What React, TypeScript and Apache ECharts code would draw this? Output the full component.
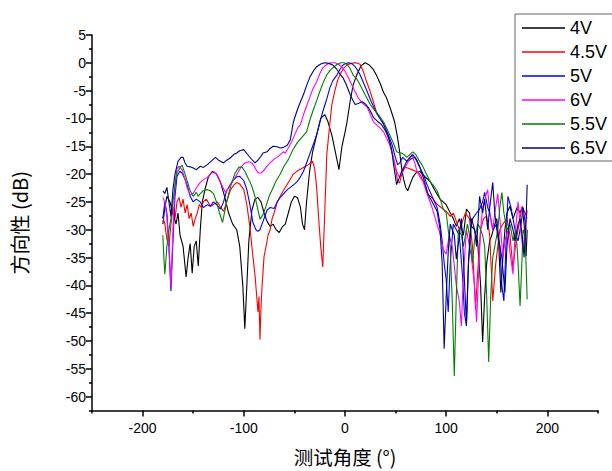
import React, { useEffect, useRef } from "react";
import * as echarts from "echarts";

const seriesNames = ["4V", "4.5V", "5V", "6V", "5.5V", "6.5V"];
const seriesColors = ["#000000", "#ff0000", "#0000ff", "#ff00ff", "#008000", "#000080"];

const xMajorTicks = [-200, -100, 0, 100, 200];
const xMinorTicks = [-250, -150, -50, 50, 150, 250];
const yMajorTicks = [-60, -55, -50, -45, -40, -35, -30, -25, -20, -15, -10, -5, 0, 5];
const yMinorTicks = [-62.5, -57.5, -52.5, -47.5, -42.5, -37.5, -32.5, -27.5, -22.5, -17.5, -12.5, -7.5, -2.5, 2.5];

const data4V = [
  [-180, -29], [-178, -26], [-176, -24], [-173, -25], [-170, -27], [-167, -29], [-165, -27], [-163, -31], [-160, -33],
  [-157, -38.5], [-155, -35], [-153, -32.5], [-151, -37.8], [-149, -33], [-147, -32], [-145, -36.5], [-143, -30],
  [-141, -25], [-138, -22.5], [-135, -20.5], [-131, -19.5], [-127, -20], [-123, -21.5], [-119, -24], [-115, -27],
  [-111, -29], [-107, -30], [-104, -33], [-101, -40], [-99, -47.8], [-97, -40], [-95, -32], [-92, -26.5], [-89, -24.5],
  [-86, -24.2], [-83, -25], [-80, -27], [-77, -28.5], [-74, -29.4], [-71, -29], [-68, -30], [-65, -30.5], [-62, -29.5],
  [-59, -29], [-56, -27], [-53, -25], [-50, -24], [-47, -24.2], [-44, -26], [-42, -29], [-40, -30], [-38, -25],
  [-35, -19.5], [-32, -16], [-28, -13], [-24, -10], [-20, -9.3], [-17, -10.5], [-13, -13], [-9, -16.5], [-6, -19.2],
  [-3, -15], [0, -12.5], [2, -10.6], [5, -7], [8, -4], [12, -2], [16, -0.5], [20, 0], [24, -0.4], [28, -1.2],
  [31, -2.2], [35, -3.8], [38, -5.3], [41, -6.3], [45, -8.3], [49, -10.6], [52, -13.5], [54, -16], [56, -19],
  [58, -21], [60, -22.4], [62, -23], [64, -22], [67, -20.6], [70, -19.8], [74, -19.5], [78, -20.3], [84, -21.3],
  [89, -23], [94, -24.5], [97, -25], [100, -25.5], [104, -27], [107, -28], [110, -29.4], [113, -28], [117, -31],
  [120, -26.3], [123, -27], [125, -29.4], [128, -30], [131, -32], [134, -40], [136, -50.2], [138, -42], [140, -36],
  [143, -32], [145, -31], [148, -29], [150, -28], [152, -33], [154, -41.3], [156, -35], [158, -30], [160, -27],
  [163, -25.8], [166, -28], [170, -26], [173, -27], [175, -26], [177, -29], [179, -34.7], [180, -30]
];

const data45V = [
  [-180, -27.6], [-178, -29], [-176, -31.7], [-174, -33], [-172, -29], [-170, -26], [-168, -28], [-166, -25],
  [-164, -24.2], [-162, -26], [-160, -24.5], [-158, -27], [-156, -25.5], [-154, -28], [-152, -27], [-150, -29.4],
  [-148, -28], [-146, -27], [-144, -25.5], [-142, -26], [-140, -25], [-137, -24.5], [-133, -25.8], [-130, -25.5],
  [-126, -25], [-123, -26], [-120, -26.7], [-117, -25], [-113, -22.8], [-110, -22], [-107, -21.5], [-104, -21.8],
  [-100, -22.8], [-97, -25.5], [-94, -29.5], [-91, -34.8], [-89, -38], [-87, -42.5], [-86, -44.8], [-85, -42],
  [-84, -49.8], [-83, -44], [-82, -40.3], [-80, -34.8], [-78, -33], [-76, -31], [-74, -30], [-72, -28], [-70, -27],
  [-67, -25], [-64, -24], [-61, -23], [-56, -21.5], [-51, -20], [-46, -19.3], [-41, -18.8], [-36, -18.3], [-32, -17.7],
  [-30, -19], [-28, -22.4], [-26, -28], [-24, -33], [-22, -36.7], [-20, -27], [-18, -16.5], [-15, -11], [-13, -7.5],
  [-10, -5], [-7, -3], [-4, -1.8], [-1, -0.9], [2, -0.4], [6, -0.1], [10, 0], [13, -0.1], [15, -0.3], [18, -1.5],
  [21, -3.2], [25, -5.2], [28, -7], [31, -8.8], [35, -10], [38, -11], [41, -12.3], [44, -14], [47, -16.5], [50, -19],
  [52, -21.3], [54, -21.6], [56, -20], [59, -18.8], [62, -18.9], [66, -19.2], [70, -19.5], [74, -20], [78, -21.5],
  [82, -23.6], [87, -24.5], [91, -25.4], [95, -26], [100, -26.7], [104, -27.6], [107, -27], [110, -28.5], [113, -30],
  [116, -28.5], [119, -27], [123, -28], [126, -33], [129, -44.3], [131, -38], [134, -30], [137, -28], [140, -27.5],
  [143, -31], [146, -42.8], [149, -36], [153, -30], [156, -29], [160, -28], [163, -31], [166, -37], [169, -32],
  [171, -30], [175, -25.8], [178, -27], [180, -28]
];

const data5V = [
  [-180, -28], [-178, -25], [-176, -27], [-174, -33], [-172, -41], [-170, -32], [-168, -24], [-166, -20.4],
  [-163, -19.5], [-161, -19.8], [-158, -21], [-156, -22], [-153, -24], [-150, -25], [-147, -24.5], [-143, -25],
  [-140, -26], [-136, -25.5], [-133, -25.8], [-130, -25], [-127, -25.5], [-123, -26.3], [-120, -25], [-117, -23],
  [-113, -21.8], [-110, -21], [-107, -20.5], [-104, -20.4], [-100, -21.2], [-97, -22.8], [-94, -25.5], [-91, -28.7],
  [-88, -30], [-86, -30.3], [-84, -30], [-81, -28.5], [-77, -26.5], [-74, -26], [-70, -26.2], [-67, -25], [-64, -24.2],
  [-61, -23.6], [-57, -22.8], [-54, -22.4], [-50, -21.8], [-47, -21.3], [-44, -20.5], [-41, -19.5], [-38, -18],
  [-35, -16.5], [-31, -14.5], [-28, -12.9], [-25, -10.8], [-22, -8.8], [-18, -6.5], [-15, -4.5], [-12, -3.2],
  [-8, -2.2], [-5, -1.2], [-2, -0.4], [1, -0.1], [4, 0], [7, -0.2], [10, -0.7], [13, -1.5], [15, -2.2], [18, -3.5],
  [22, -5.2], [26, -7], [31, -9], [35, -10.2], [38, -11], [41, -12.2], [44, -13.5], [47, -15], [49, -16.5], [52, -18.3],
  [54, -18], [57, -17], [60, -17.5], [62, -17.7], [66, -17.2], [69, -17], [72, -18], [74, -18.8], [78, -20.3],
  [81, -21.9], [86, -24], [91, -26], [94, -29], [96, -32], [98, -36], [100, -39], [102, -44.8], [104, -36], [107, -29],
  [110, -30], [113, -31], [116, -38], [118, -45], [120, -47.3], [122, -36], [124, -30], [126, -28], [130, -27],
  [133, -26.3], [136, -25], [138, -23.3], [141, -26], [143, -27], [146, -30], [150, -29], [153, -33], [155, -40],
  [157, -42.8], [159, -33], [161, -24], [164, -26], [166, -28], [169, -31], [171, -32], [174, -29], [176, -26], [179, -30]
];

const data6V = [
  [-180, -24.2], [-178, -25], [-176, -27.6], [-174, -33], [-172, -40.3], [-170, -30], [-168, -22], [-166, -19],
  [-164, -18.6], [-161, -19.2], [-158, -21], [-156, -22.5], [-153, -23.7], [-150, -23.5], [-147, -22.5], [-143, -21.5],
  [-140, -21], [-136, -20.6], [-133, -20], [-130, -19.5], [-127, -20], [-124, -21], [-121, -22.3], [-118, -23.3],
  [-115, -22.5], [-112, -21.5], [-110, -21], [-106, -19.8], [-103, -18.8], [-99, -18], [-95, -17.8], [-92, -18],
  [-89, -18.8], [-86, -19.8], [-83, -19.8], [-81, -19.5], [-78, -18.8], [-74, -18], [-70, -17.3], [-67, -17],
  [-64, -16.5], [-61, -16], [-59, -16.2], [-55, -15], [-51, -13.5], [-49, -12.6], [-46, -11.5], [-44, -11.1],
  [-41, -9.3], [-38, -7.8], [-35, -6.3], [-32, -4.8], [-28, -3.4], [-25, -2], [-22, -0.9], [-18, -0.3], [-14, 0],
  [-10, 0], [-6, -0.3], [-3, -0.8], [0, -1.5], [2, -2.2], [5, -3.3], [8, -4.5], [11, -5.5], [13, -6.3], [17, -7.2],
  [22, -8], [25, -9.3], [28, -10.6], [31, -11.1], [35, -11.8], [38, -12.4], [41, -13.5], [44, -14.7], [47, -16.5],
  [51, -19.5], [54, -20.6], [57, -19.5], [61, -18.3], [64, -17.2], [66, -16.5], [69, -18], [71, -19.5], [74, -20.5],
  [77, -21.3], [81, -23.5], [86, -26], [90, -28.5], [94, -30.8], [97, -33.5], [100, -34.4], [103, -31], [106, -33],
  [110, -40], [113, -43], [115, -47.3], [117, -38], [120, -30], [123, -33], [125, -35], [128, -40], [130, -46.6],
  [132, -38], [134, -30], [136, -26], [139, -24], [141, -22.8], [143, -27], [146, -30], [148, -27], [151, -23.5],
  [153, -28], [156, -35], [158, -32], [161, -30], [163, -34], [166, -38], [168, -31], [171, -25], [173, -29],
  [176, -34], [178, -30], [180, -26.5]
];

const data55V = [
  [-180, -31], [-179, -35], [-178, -38], [-176, -33], [-174, -30], [-172, -28], [-170, -25], [-168, -22],
  [-166, -19.8], [-163, -18.8], [-161, -18.4], [-158, -20], [-156, -21.2], [-153, -23], [-150, -24], [-147, -23.3],
  [-145, -24], [-143, -23.5], [-140, -23], [-136, -22.8], [-133, -23], [-130, -23.5], [-127, -25], [-124, -27],
  [-121, -28.7], [-118, -26], [-115, -23.5], [-113, -22.2], [-109, -20], [-105, -18.8], [-102, -18.7], [-99, -19.5],
  [-95, -21], [-92, -22.2], [-89, -24], [-86, -26.5], [-84, -28.1], [-81, -27.3], [-79, -26.3], [-75, -24],
  [-72, -22.8], [-68, -21.2], [-64, -20], [-60, -18.5], [-56, -17.4], [-52, -15.8], [-47, -14.3], [-43, -13.5],
  [-38, -12.4], [-35, -10.5], [-32, -8.8], [-28, -6.8], [-25, -5.2], [-21, -3.3], [-18, -2.2], [-15, -1.4],
  [-12, -0.9], [-8, -0.3], [-4, 0], [-1, 0], [2, -0.3], [5, -1], [8, -2.2], [12, -3], [15, -4], [20, -5.8],
  [25, -7.5], [29, -8.5], [33, -9.3], [38, -10.6], [41, -11.7], [44, -12.9], [48, -14.5], [51, -16], [54, -16.2],
  [56, -16.2], [59, -16.6], [61, -17], [64, -16.5], [67, -16], [70, -16.5], [73, -17.5], [76, -18.3], [80, -19.8],
  [84, -21.3], [88, -22.2], [91, -23], [95, -25], [97, -26.3], [100, -27], [102, -30], [104, -33], [106, -43],
  [108, -56.3], [110, -42], [112, -30], [115, -31], [117, -33], [119, -31], [121, -29], [124, -32], [126, -36],
  [128, -32], [131, -29], [133, -29.5], [136, -31], [138, -33], [140, -42], [142, -53.8], [144, -42], [146, -35],
  [149, -32], [151, -30], [153, -26], [155, -23.3], [157, -27], [160, -30], [163, -29], [166, -32], [169, -30],
  [171, -36], [173, -43.7], [175, -35], [176, -30], [178, -31], [180, -42.5]
];

const data65V = [
  [-180, -23], [-178, -23.5], [-176, -22.4], [-174, -25], [-172, -27.6], [-170, -22.8], [-168, -20], [-165, -17.7],
  [-162, -17], [-160, -17], [-158, -18], [-156, -18.6], [-153, -18.7], [-150, -18.9], [-147, -19.2], [-143, -18.6],
  [-140, -18.8], [-136, -18.3], [-133, -17.8], [-130, -17.3], [-128, -17], [-125, -17.5], [-122, -17.8], [-120, -18],
  [-117, -17.5], [-114, -17.2], [-110, -16.5], [-107, -16.2], [-104, -15.8], [-100, -15.6], [-97, -16.3], [-93, -17.2],
  [-89, -18], [-86, -17.5], [-83, -16.8], [-81, -16.2], [-77, -16], [-74, -15.4], [-71, -15], [-67, -15.1],
  [-64, -15.3], [-61, -15.2], [-57, -14.8], [-54, -13.8], [-51, -10.6], [-47, -8.4], [-44, -7], [-41, -5.7],
  [-38, -4.1], [-35, -2.7], [-31, -1.4], [-28, -0.7], [-24, -0.2], [-20, 0], [-16, -0.1], [-12, -0.4], [-8, -1.2],
  [-5, -2], [-2, -2.7], [1, -3.8], [5, -5.7], [8, -6.8], [10, -7.5], [13, -7.3], [17, -7], [20, -7.4], [23, -8],
  [26, -9], [28, -9.8], [32, -10.5], [36, -11.1], [40, -12.2], [43, -13.5], [46, -15.5], [48, -18.3], [51, -21.9],
  [54, -20.5], [56, -19.5], [59, -18.5], [61, -17.7], [64, -17], [67, -16.5], [71, -17.5], [74, -18.8], [78, -21],
  [82, -23.6], [87, -25.3], [91, -26.7], [94, -30], [96, -36], [98, -51.4], [100, -42], [102, -34], [104, -29],
  [106, -30], [108, -31], [110, -35.3], [113, -31], [115, -28], [117, -35], [119, -43], [120, -47], [122, -36],
  [125, -28], [128, -30], [130, -33], [133, -24], [136, -27], [138, -24.5], [141, -30], [143, -26], [146, -21.5],
  [148, -27], [150, -30], [153, -33], [155, -35], [158, -41.3], [160, -33], [163, -28], [166, -30], [168, -32],
  [171, -29], [173, -28], [175, -31], [177, -35], [179, -28], [180, -21.9]
];

const seriesData = [data4V, data45V, data5V, data6V, data55V, data65V];

const latin = "'Liberation Sans', Arial, sans-serif";
const cjk = "'Noto Sans CJK SC', 'Liberation Sans', sans-serif";

export default function App() {
  const ref = useRef<HTMLDivElement>(null);

  useEffect(() => {
    document.body.style.margin = "0";
    if (!ref.current) return;
    const chart = echarts.init(ref.current, null, { renderer: "svg" });
    const axisColor = "#000";
    chart.setOption({
      animation: false,
      backgroundColor: "#ffffff",
      grid: { left: 92, right: 14, top: 35, bottom: 59, containLabel: false },
      legend: {
        orient: "vertical",
        left: 515,
        top: 14,
        data: seriesNames.map((n) => ({ name: n, icon: "rect" })),
        itemWidth: 43,
        itemHeight: 1.3,
        itemGap: 6,
        padding: [5, 40, 4, 7],
        borderColor: "#666",
        borderWidth: 1,
        borderRadius: 0,
        backgroundColor: "#fff",
        textStyle: { fontSize: 18, color: "#000", fontFamily: latin, lineHeight: 17.6 },
      },
      xAxis: [
        {
          type: "value",
          min: -250,
          max: 250,
          position: "bottom",
          axisLine: { show: true, onZero: false, lineStyle: { color: axisColor, width: 1.5 } },
          axisTick: { show: true, length: 6, customValues: xMajorTicks, lineStyle: { color: axisColor, width: 1.5 } },
          axisLabel: { customValues: xMajorTicks, fontSize: 14, color: "#000", fontFamily: latin, margin: 10 },
          splitLine: { show: false },
          name: "测试角度 (°)",
          nameLocation: "middle",
          nameGap: 36,
          nameTextStyle: { fontSize: 19.5, color: "#000", fontFamily: cjk },
        },
        {
          type: "value",
          min: -250,
          max: 250,
          position: "bottom",
          axisLine: { show: false, onZero: false },
          axisTick: { show: true, length: 3, customValues: xMinorTicks, lineStyle: { color: axisColor, width: 1.5 } },
          axisLabel: { show: false },
          splitLine: { show: false },
        },
      ],
      yAxis: [
        {
          type: "value",
          min: -62.5,
          max: 5,
          position: "left",
          axisLine: { show: true, onZero: false, lineStyle: { color: axisColor, width: 1.5 } },
          axisTick: { show: true, length: 6, customValues: yMajorTicks, lineStyle: { color: axisColor, width: 1.5 } },
          axisLabel: { customValues: yMajorTicks, fontSize: 14, color: "#000", fontFamily: latin, margin: 6 },
          splitLine: { show: false },
          name: "方向性 (dB)",
          nameLocation: "middle",
          nameGap: 63,
          nameTextStyle: { fontSize: 20, color: "#000", fontFamily: cjk },
        },
        {
          type: "value",
          min: -62.5,
          max: 5,
          position: "left",
          axisLine: { show: false, onZero: false },
          axisTick: { show: true, length: 3, customValues: yMinorTicks, lineStyle: { color: axisColor, width: 1.5 } },
          axisLabel: { show: false },
          splitLine: { show: false },
        },
      ],
      series: seriesNames.map((name, i) => ({
        name,
        type: "line",
        xAxisIndex: 0,
        yAxisIndex: 0,
        data: seriesData[i],
        symbol: "none",
        showSymbol: false,
        smooth: false,
        lineStyle: { color: seriesColors[i], width: 1.1 },
        itemStyle: { color: seriesColors[i] },
      })),
    });
    return () => chart.dispose();
  }, []);

  return <div ref={ref} style={{ width: 612, height: 471 }} />;
}
